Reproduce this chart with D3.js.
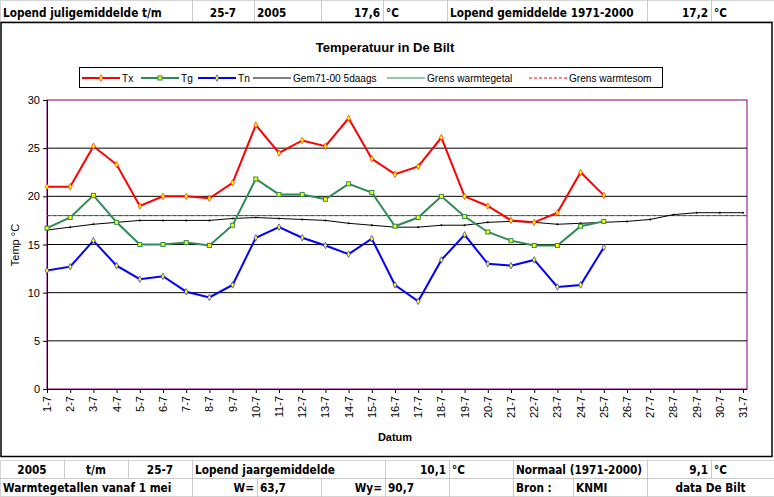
<!DOCTYPE html>
<html><head><meta charset="utf-8">
<script src="https://cdn.jsdelivr.net/npm/d3@7"></script>
<style>body{margin:0;background:#fff}svg{display:block}</style>
</head><body>
<svg id="c" width="774" height="497"></svg>
<script>
var days = d3.range(1, 32).map(d => d + "-7");
var tx = [21.0,21.0,25.2,23.3,19.0,20.0,20.0,19.8,21.4,27.4,24.5,25.8,25.2,28.1,23.9,22.3,23.1,26.1,20.0,19.0,17.5,17.3,18.3,22.5,20.1];
var tg = [16.7,17.8,20.1,17.3,15.0,15.0,15.2,14.9,17.0,21.8,20.2,20.2,19.7,21.3,20.4,16.9,17.8,20.0,17.9,16.3,15.4,14.9,14.9,16.9,17.4];
var tn = [12.3,12.7,15.4,12.8,11.4,11.7,10.1,9.5,10.8,15.7,16.8,15.7,14.9,14.0,15.6,10.8,9.1,13.4,16.0,13.0,12.8,13.4,10.6,10.8,14.7];
var gem = [16.5,16.8,17.1,17.3,17.5,17.5,17.5,17.5,17.7,17.8,17.7,17.6,17.5,17.2,17.0,16.8,16.8,17.0,17.0,17.3,17.4,17.3,17.1,17.2,17.3,17.4,17.6,18.1,18.3,18.3,18.3];
var grens = 18;
var yTicks = [0,5,10,15,20,25,30];
var headerCells = [[0,192,"Lopend juligemiddelde t/m","start"],[192,254,"25-7","middle"],[254,321,"2005","start"],[321,383,"17,6","end"],[383,447,"°C","start"],[447,647,"Lopend gemiddelde 1971-2000","start"],[647,711,"17,2","end"],[711,774,"°C","start"]];
var row1 = [[0,64,"2005","middle"],[64,128,"t/m","middle"],[128,192,"25-7","middle"],[192,385,"Lopend jaargemiddelde","start"],[385,449,"10,1","end"],[449,513,"°C","start"],[513,647,"Normaal (1971-2000)","start"],[647,711,"9,1","end"],[711,774,"°C","start"]];
var row2 = [[0,192,"Warmtegetallen vanaf 1 mei","start"],[192,257,"W=","end"],[257,321,"63,7","start"],[321,385,"Wy=","end"],[385,449,"90,7","start"],[449,513,"","start"],[513,573,"Bron :","start"],[573,647,"KNMI","start"],[647,774,"data  De Bilt","middle"]];

var svg = d3.select("#c");
var cellFont = "'DejaVu Sans Condensed',sans-serif";

function drawRow(cells, y0, h) {
  cells.forEach(c => {
    svg.append("rect").attr("x", c[0]+0.5).attr("y", y0+0.5).attr("width", c[1]-c[0]).attr("height", h)
      .attr("fill", "#fff").attr("stroke", "#aaa").attr("stroke-dasharray", "1,1");
    var tx0 = c[3] == "start" ? c[0]+3 : c[3] == "end" ? c[1]-3 : (c[0]+c[1])/2;
    svg.append("text").attr("x", tx0).attr("y", y0+h-4).attr("text-anchor", c[3])
      .attr("font-family", cellFont).attr("font-weight", "bold").attr("font-size", 13)
      .attr("transform", `translate(${tx0},0) scale(0.9,1) translate(${-tx0},0)`).text(c[2]);
  });
}
drawRow(headerCells, 0, 21);
drawRow(row1, 460, 18);
drawRow(row2, 478, 18);

// chart frame
svg.append("rect").attr("x", 1).attr("y", 22.5).attr("width", 771).attr("height", 434).attr("fill", "#fff").attr("stroke", "#000").attr("stroke-width", 1.5);

var x = d3.scalePoint().domain(days).range([47, 743]);
var y = d3.scaleLinear().domain([0, 30]).range([389, 100]);

var g = svg.append("g");
g.append("rect").attr("x", 47).attr("y", 100).attr("width", 700).attr("height", 289).attr("fill", "none").attr("stroke", "#800080");
yTicks.forEach(t => {
  if (t > 0 && t < 30) g.append("line").attr("x1", 47).attr("x2", 747).attr("y1", y(t)).attr("y2", y(t)).attr("stroke", "#000");
});
var ya = g.append("g").attr("transform", "translate(47,0)").call(d3.axisLeft(y).tickValues(yTicks).tickSize(4).tickSizeOuter(0));
var xa = g.append("g").attr("transform", "translate(0,389)").call(d3.axisBottom(x).tickSize(4).tickSizeOuter(0));
xa.select(".domain").attr("d", "M47,0.5H747");
[ya, xa].forEach(a => a.selectAll("text").attr("font-family", "Arial, 'Liberation Sans', sans-serif").attr("font-size", 11).attr("fill", "#000"));
xa.selectAll("text").attr("transform", "rotate(-90)").attr("text-anchor", "end").attr("dy", "0.32em").attr("y", 0).attr("x", -7);

g.append("line").attr("x1", 47).attr("x2", 747).attr("y1", y(grens)).attr("y2", y(grens)).attr("stroke", "#2e8b57");
g.append("line").attr("x1", 47).attr("x2", 747).attr("y1", y(grens)).attr("y2", y(grens)).attr("stroke", "#f00").attr("stroke-dasharray", "3,3");

var line = d3.line().x((d, i) => x(days[i])).y(d => y(d));
g.append("path").attr("d", line(gem)).attr("fill", "none").attr("stroke", "#000").attr("stroke-width", 1);
g.selectAll(".gm").data(gem).enter().append("circle").attr("cx", (d, i) => x(days[i])).attr("cy", d => y(d)).attr("r", 1).attr("fill", "#000");

function series(data, col, square) {
  g.append("path").attr("d", line(data)).attr("fill", "none").attr("stroke", col).attr("stroke-width", 2);
  data.forEach((d, i) => {
    var cx = x(days[i]), cy = y(d);
    if (square) g.append("rect").attr("x", cx-2).attr("y", cy-2).attr("width", 4).attr("height", 4).attr("fill", "#ff0").attr("stroke", col);
    else g.append("path").attr("d", d3.symbol(d3.symbolDiamond, 12)()).attr("transform", `translate(${cx},${cy})`).attr("fill", "#ff0").attr("stroke", col).attr("stroke-width", 0.6);
  });
}
series(tg, "#2e8b57", true);
series(tn, "#0000ff", false);
series(tx, "#ff0000", false);

var font = "Arial, 'Liberation Sans', sans-serif";
svg.append("text").attr("x", 385).attr("y", 52).attr("text-anchor", "middle").attr("font-family", font).attr("font-weight", "bold").attr("font-size", 13).text("Temperatuur in De Bilt");
svg.append("text").attr("transform", "translate(19,245) rotate(-90)").attr("text-anchor", "middle").attr("font-family", font).attr("font-size", 11).text("Temp °C");
svg.append("text").attr("x", 395).attr("y", 441).attr("text-anchor", "middle").attr("font-family", font).attr("font-weight", "bold").attr("font-size", 11).text("Datum");

// legend
var lg = svg.append("g");
lg.append("rect").attr("x", 79.5).attr("y", 67.5).attr("width", 583).attr("height", 20).attr("fill", "#fff").attr("stroke", "#000");
var leg = [["Tx","#ff0000",2,null,"d",82],["Tg","#2e8b57",2,null,"s",141],["Tn","#0000ff",2,null,"d",198],["Gem71-00 5daags","#000",1,null,"",253],["Grens warmtegetal","#2e8b57",1,null,"",387],["Grens warmtesom","#f00",1,"3,2","",529]];
leg.forEach(l => {
  lg.append("line").attr("x1", l[5]).attr("x2", l[5]+38).attr("y1", 78).attr("y2", 78).attr("stroke", l[1]).attr("stroke-width", l[2]).attr("stroke-dasharray", l[3]);
  if (l[4] == "s") lg.append("rect").attr("x", l[5]+17).attr("y", 76).attr("width", 4).attr("height", 4).attr("fill", "#ff0").attr("stroke", l[1]);
  if (l[4] == "d") lg.append("path").attr("d", d3.symbol(d3.symbolDiamond, 12)()).attr("transform", `translate(${l[5]+19},78)`).attr("fill", "#ff0").attr("stroke", l[1]).attr("stroke-width", 0.6);
  lg.append("text").attr("x", l[5]+40).attr("y", 82).attr("font-family", font).attr("font-size", 11)
    .attr("transform", `translate(${l[5]+40},0) scale(0.92,1) translate(${-(l[5]+40)},0)`).text(l[0]);
});
</script>
</body></html>
